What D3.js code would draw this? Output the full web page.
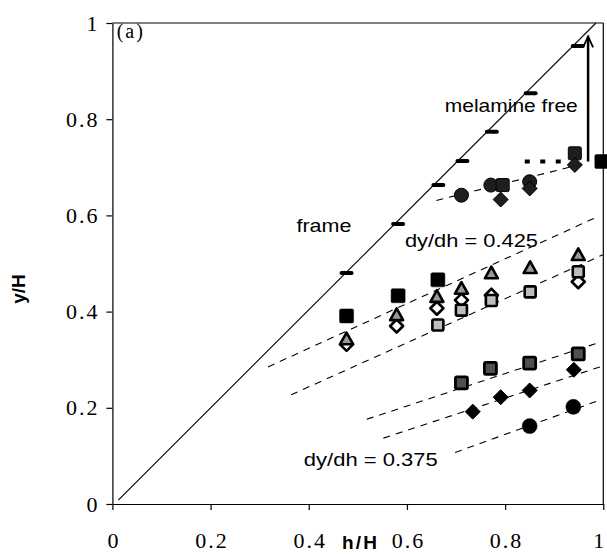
<!DOCTYPE html>
<html><head><meta charset="utf-8">
<script src="https://cdn.jsdelivr.net/npm/d3@7/dist/d3.min.js"></script>
<style>
html,body{margin:0;padding:0;background:#fff;}
svg{display:block;}
</style></head>
<body>
<svg id="chart" width="607" height="554"></svg>
<script>
// ---- data ----
const tickValues = [0, 0.2, 0.4, 0.6, 0.8, 1];
const tickLabels = ["0", "0.2", "0.4", "0.6", "0.8", "1"];

// frame (on diagonal)
const frameH = [0.477, 0.582, 0.664, 0.713, 0.773, 0.852, 0.948];
const frameY = [0.480, 0.582, 0.663, 0.713, 0.774, 0.854, 0.952];

// melamine-free upper cluster
const upCircH = [0.711, 0.771, 0.850];
const upCircY = [0.642, 0.663, 0.670];
const upSqH = [0.795, 0.942];
const upSqY = [0.663, 0.729];
const upDiaH = [0.791, 0.850, 0.942];
const upDiaY = [0.633, 0.656, 0.705];

// black squares
const blackSqH = [0.477, 0.582, 0.663, 0.997];
const blackSqY = [0.391, 0.433, 0.466, 0.712];

// middle cluster
const midTriH = [0.477, 0.579, 0.661, 0.711, 0.772, 0.851, 0.949];
const midTriY = [0.343, 0.393, 0.431, 0.448, 0.480, 0.491, 0.518];
const midDiaH = [0.477, 0.579, 0.661, 0.711, 0.772, 0.949];
const midDiaY = [0.332, 0.370, 0.407, 0.424, 0.434, 0.462];
const midSqH = [0.663, 0.711, 0.772, 0.851, 0.949];
const midSqY = [0.372, 0.403, 0.423, 0.441, 0.483];

// lower cluster
const lowSqH = [0.711, 0.770, 0.850, 0.949];
const lowSqY = [0.252, 0.282, 0.293, 0.312];
const lowDiaH = [0.734, 0.791, 0.850, 0.940];
const lowDiaY = [0.192, 0.222, 0.236, 0.279];
const lowCircH = [0.850, 0.939];
const lowCircY = [0.162, 0.202];

// lines
const diagLine = [[0.012, 0.008], [0.985, 1.0]];
const fitUpper = [[0.660, 0.631], [0.966, 0.709]];
const fitMidA = [[0.317, 0.285], [0.990, 0.598]];
const fitMidB = [[0.364, 0.227], [0.999, 0.518]];
const fitLowC = [[0.518, 0.176], [0.986, 0.334]];
const fitLowD = [[0.552, 0.137], [0.993, 0.285]];
const fitLowE = [[0.698, 0.107], [0.993, 0.216]];
const meltLine = [[0.840, 0.712], [0.916, 0.712]];
const arrowLine = [[0.969, 0.712], [0.969, 0.972]];

// ---- drawing ----
const svg = d3.select("#chart");
const x = d3.scaleLinear().domain([0, 1]).range([112.4, 603.3]);
const y = d3.scaleLinear().domain([0, 1]).range([504, 23]);
const zip = (a, b) => a.map((v, i) => [v, b[i]]);
const line = d3.line().x(d => x(d[0])).y(d => y(d[1]));

// frame box
svg.append("line").attr("x1", x(0)).attr("x2", x(1)).attr("y1", y(1)).attr("y2", y(1))
  .attr("stroke", "#000").attr("stroke-width", 1.2);
svg.append("line").attr("x1", x(1)).attr("x2", x(1)).attr("y1", y(1)).attr("y2", y(0))
  .attr("stroke", "#000").attr("stroke-width", 1.2);

// axes
const xAxis = d3.axisBottom(x).tickValues(tickValues).tickFormat((d, i) => tickLabels[i])
  .tickSize(6).tickSizeOuter(0).tickPadding(22);
const yAxis = d3.axisLeft(y).tickValues(tickValues).tickFormat((d, i) => tickLabels[i])
  .tickSize(6).tickSizeOuter(0).tickPadding(9);
const gx = svg.append("g").attr("transform", `translate(0,${y(0)})`).call(xAxis);
const gy = svg.append("g").attr("transform", `translate(${x(0)},0)`).call(yAxis);
[gx, gy].forEach(g => {
  g.select(".domain").attr("stroke", "#000").attr("stroke-width", 1.2);
  g.selectAll(".tick line").attr("stroke", "#000").attr("stroke-width", 1.2);
  g.selectAll(".tick text").attr("font-family", "'Liberation Serif', 'Times New Roman', serif")
    .attr("font-size", 22).attr("fill", "#000").attr("letter-spacing", "2px");
});
gx.selectAll(".tick text").attr("dx", (d, i) => i === tickValues.length - 1 ? -4 : 1);
gy.selectAll(".tick text").attr("dx", 2);

// axis titles
svg.append("text").attr("x", 342).attr("y", 549)
  .attr("font-family", "'Liberation Sans', Arial, sans-serif").attr("font-weight", "bold")
  .attr("font-size", 19).attr("textLength", 35).text("h/H");
svg.append("text").attr("transform", "translate(25,289) rotate(-90)").attr("text-anchor", "middle")
  .attr("font-family", "'Liberation Sans', Arial, sans-serif").attr("font-weight", "bold")
  .attr("font-size", 19).text("y/H");

// lines
svg.append("path").attr("d", line(diagLine)).attr("fill", "none").attr("stroke", "#000").attr("stroke-width", 1.1);
[fitUpper, fitMidA, fitMidB, fitLowC, fitLowD, fitLowE].forEach(l => {
  svg.append("path").attr("d", line(l)).attr("fill", "none").attr("stroke", "#000")
    .attr("stroke-width", 1.1).attr("stroke-dasharray", "7,6");
});
svg.append("path").attr("d", line(meltLine)).attr("fill", "none").attr("stroke", "#000")
  .attr("stroke-width", 4).attr("stroke-dasharray", "5,10.5");
svg.append("path").attr("d", line(arrowLine)).attr("fill", "none").attr("stroke", "#000")
  .attr("stroke-width", 2.5);
{
  const ax = x(arrowLine[1][0]), ay = y(arrowLine[1][1]);
  svg.append("path").attr("d", `M${ax - 5},${ay + 11} L${ax},${ay} L${ax + 5},${ay + 11}`)
    .attr("fill", "none").attr("stroke", "#000").attr("stroke-width", 1.8);
}

// frame dashes
svg.append("g").selectAll("rect").data(zip(frameH, frameY)).join("rect")
  .attr("x", d => x(d[0]) - 7).attr("y", d => y(d[1]) - 2).attr("width", 14).attr("height", 4)
  .attr("rx", 2).attr("fill", "#000");

// symbol helpers
function squares(data, size, fill, stroke, sw) {
  svg.append("g").selectAll("rect").data(data).join("rect")
    .attr("x", d => x(d[0]) - size / 2).attr("y", d => y(d[1]) - size / 2)
    .attr("width", size).attr("height", size).attr("rx", 1.5)
    .attr("fill", fill).attr("stroke", stroke).attr("stroke-width", sw);
}
function diamonds(data, half, fill, stroke, sw) {
  svg.append("g").selectAll("path").data(data).join("path")
    .attr("d", d => { const cx = x(d[0]), cy = y(d[1]);
      return `M${cx},${cy - half} L${cx + half},${cy} L${cx},${cy + half} L${cx - half},${cy} Z`; })
    .attr("fill", fill).attr("stroke", stroke).attr("stroke-width", sw).attr("stroke-linejoin", "round");
}
function triangles(data, half, fill, stroke, sw) {
  svg.append("g").selectAll("path").data(data).join("path")
    .attr("d", d => { const cx = x(d[0]), cy = y(d[1]);
      return `M${cx},${cy - half} L${cx + half},${cy + half * 0.8} L${cx - half},${cy + half * 0.8} Z`; })
    .attr("fill", fill).attr("stroke", stroke).attr("stroke-width", sw).attr("stroke-linejoin", "round");
}
function circles(data, r, fill, stroke, sw) {
  svg.append("g").selectAll("circle").data(data).join("circle")
    .attr("cx", d => x(d[0])).attr("cy", d => y(d[1])).attr("r", r)
    .attr("fill", fill).attr("stroke", stroke).attr("stroke-width", sw);
}

// upper cluster
circles(zip(upCircH, upCircY), 7, "#1e1e1e", "#000", 1);
squares(zip(upSqH, upSqY), 13, "#1e1e1e", "#000", 1);
diamonds(zip(upDiaH, upDiaY), 7.5, "#1e1e1e", "#000", 1);

// black squares
squares(zip(blackSqH, blackSqY), 14, "#000", "#000", 0.5);

// middle cluster
diamonds(zip(midDiaH, midDiaY), 6.5, "#fff", "#000", 2.6);
triangles(zip(midTriH, midTriY), 6.5, "#999", "#000", 2.6);
squares(zip(midSqH, midSqY), 11, "#bdbdbd", "#000", 2.6);

// lower cluster
squares(zip(lowSqH, lowSqY), 12, "#505050", "#000", 2.8);
diamonds(zip(lowDiaH, lowDiaY), 7.5, "#000", "#000", 1);
circles(zip(lowCircH, lowCircY), 7.5, "#000", "#000", 0.5);

// annotations
const sans = "'Liberation Sans', Arial, Helvetica, sans-serif";
function note(tx, ty, str, len, size) {
  svg.append("text").attr("x", x(tx)).attr("y", y(ty)).attr("font-family", sans)
    .attr("font-size", size).attr("fill", "#000").attr("textLength", len)
    .attr("lengthAdjust", "spacingAndGlyphs").text(str);
}
note(0.375, 0.566, "frame", 55, 19);
note(0.677, 0.816, "melamine free", 133, 19);
note(0.596, 0.535, "dy/dh = 0.425", 133, 19);
note(0.390, 0.080, "dy/dh = 0.375", 134, 19);
svg.append("text").attr("x", x(0.009)).attr("y", y(0.968))
  .attr("font-family", "'Liberation Serif', 'Times New Roman', serif").attr("font-size", 20)
  .attr("textLength", 26).text("(a)");
</script>
</body></html>
